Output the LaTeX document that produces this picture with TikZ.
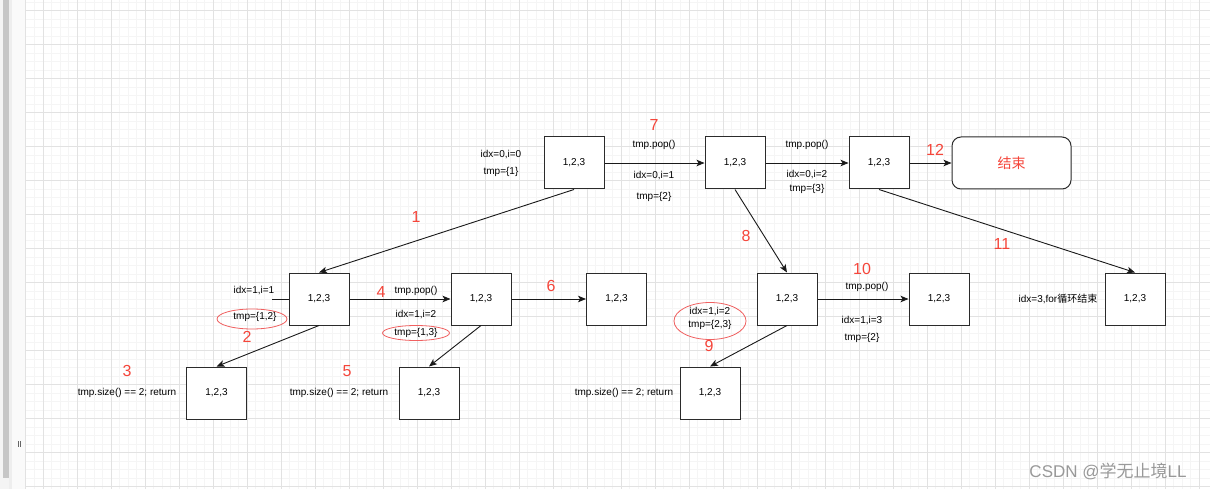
\documentclass[tikz,border=0pt]{standalone}
\usepackage{fontspec}
\setmainfont{Liberation Sans}
\newfontfamily\cjk{Noto Sans CJK SC}
\usetikzlibrary{arrows.meta}
\definecolor{numred}{HTML}{F5453A}
\definecolor{ellred}{HTML}{F06060}
\definecolor{gridmajor}{HTML}{E2E2E2}
\definecolor{gridminor}{HTML}{F5F5F5}
\definecolor{barcol}{HTML}{C6C6C6}
\definecolor{wmcol}{HTML}{999999}
\definecolor{sideA}{HTML}{F4F4F4}
\definecolor{sideB}{HTML}{FAFAFA}
\definecolor{sideC}{HTML}{EEEEEE}
\definecolor{boxline}{HTML}{2B2B2B}
\tikzset{
  box/.style={draw=boxline, line width=1pt, fill=white, minimum width=60pt, minimum height=52pt, inner sep=0pt, font=\fontsize{10}{12}\selectfont},
  endbox/.style={draw=boxline, line width=1pt, fill=white, rounded corners=9pt, minimum width=119pt, minimum height=52pt, inner sep=0pt, text=numred, font=\fontsize{14}{16}\cjk},
  lbl/.style={inner sep=0pt, font=\fontsize{10}{12}\selectfont, align=center},
  num/.style={inner sep=0pt, text=numred, font=\fontsize{16}{18}\selectfont},
  edge/.style={draw=black!90, line width=0.9pt, -{Stealth[length=8pt,width=6.5pt,inset=2pt]}},
  plain/.style={draw=black!90, line width=0.9pt},
  redell/.style={draw=ellred, line width=0.8pt}
}
\begin{document}
\begin{tikzpicture}[x=1pt,y=-1pt]
\useasboundingbox (0,0) rectangle (1210,489);
% background
\fill[white] (0,0) rectangle (1210,489);
% minor grid
\foreach \k in {0,...,138} {
  \pgfmathsetmacro\xx{43+8.5*(\k-2)}
  \ifdim\xx pt>26pt \draw[gridminor, line width=0.6pt] (\xx,0) -- (\xx,489); \fi
}
\foreach \k in {0,...,58} {
  \pgfmathsetmacro\yy{10.7+8.5*(\k-1)}
  \draw[gridminor, line width=0.6pt] (26,\yy) -- (1210,\yy);
}
% major grid
\foreach \k in {0,...,34} {
  \pgfmathsetmacro\xx{43+34*\k}
  \draw[gridmajor, line width=0.8pt] (\xx,0) -- (\xx,489);
}
\foreach \k in {0,...,14} {
  \pgfmathsetmacro\yy{10.7+34*\k}
  \draw[gridmajor, line width=0.8pt] (26,\yy) -- (1210,\yy);
}
% left sidebar
\fill[sideA] (0,0) rectangle (26,489);
\fill[sideB] (12,0) rectangle (25.5,489);
\fill[sideC] (9,0) rectangle (12,489);
\fill[barcol] (3,0) rectangle (9,478);
\draw[gridmajor, line width=0.8pt] (25.5,0) -- (25.5,489);
\draw[black!60, line width=0.8pt] (18.3,441) -- (18.3,447);
\draw[black!60, line width=0.8pt] (20.5,441) -- (20.5,447);

% boxes
\node[box] (A) at (574,163) {1,2,3};
\node[box] (B) at (735,163) {1,2,3};
\node[box] (C) at (879,163) {1,2,3};
\node[endbox] (End) at (1011.5,163) {结束};
\node[box] (D) at (319,299) {1,2,3};
\node[box] (E) at (481,299) {1,2,3};
\node[box] (F) at (616.5,299) {1,2,3};
\node[box] (G) at (787,299) {1,2,3};
\node[box] (H) at (939,299) {1,2,3};
\node[box] (I) at (1135,299) {1,2,3};
\node[box] (J) at (216.5,393) {1,2,3};
\node[box] (K) at (429,393) {1,2,3};
\node[box] (L) at (710,393) {1,2,3};

% connectors
\draw[edge] (A) -- (B);
\draw[edge] (B) -- (C);
\draw[edge] (C) -- (End);
\draw[edge] (A.south) -- (D.north);
\draw[edge] (B.south) -- (G.north);
\draw[edge] (C.south) -- (I.north);
\draw[edge] (D) -- (E);
\draw[edge] (E) -- (F);
\draw[edge] (G) -- (H);
\draw[edge] (D.south) -- (J.north);
\draw[edge] (E.south) -- (K.north);
\draw[edge] (G.south) -- (L.north);
\coordinate (d0) at (272,299);
\draw[plain] (d0) -- (D.west);

% top row labels
\node[lbl] (l1) at (501,155) {idx=0,i=0};
\node[lbl] (l2) at (501,172) {tmp=\{1\}};
\node[num] (n7) at (654,125) {7};
\node[lbl] (l3) at (654,145) {tmp.pop()};
\node[lbl] (l4) at (654,176) {idx=0,i=1};
\node[lbl] (l5) at (654,197) {tmp=\{2\}};
\node[lbl] (l6) at (807,145) {tmp.pop()};
\node[lbl] (l7) at (807,175) {idx=0,i=2};
\node[lbl] (l8) at (807,189) {tmp=\{3\}};
\node[num] (n12) at (935,150) {12};
\node[num] (n1) at (416,217) {1};
\node[num] (n8) at (746,236) {8};
\node[num] (n11) at (1002,244) {11};

% middle row labels
\node[lbl] (l9) at (254,291) {idx=1,i=1};
\draw[redell] (252,319) ellipse [x radius=35, y radius=10];
\node[lbl] (l10) at (255,317) {tmp=\{1,2\}};
\node[num] (n2) at (247,337) {2};
\node[num] (n4) at (381,292) {4};
\node[lbl] (l11) at (416,291) {tmp.pop()};
\node[lbl] (l12) at (416,315) {idx=1,i=2};
\draw[redell] (416,333) ellipse [x radius=33.5, y radius=7.5];
\node[lbl] (l13) at (416,333) {tmp=\{1,3\}};
\node[num] (n6) at (551,286) {6};
\node[num] (n10) at (862,269) {10};
\node[lbl] (l14) at (867,287) {tmp.pop()};
\node[lbl] (l15) at (862,321) {idx=1,i=3};
\node[lbl] (l16) at (862,338) {tmp=\{2\}};
\draw[redell] (710,321) ellipse [x radius=36, y radius=18.5];
\node[lbl] (l17) at (710,312) {idx=1,i=2};
\node[lbl] (l18) at (710,325) {tmp=\{2,3\}};
\node[num] (n9) at (709,346) {9};
\node[lbl] (l19) at (1058,299) {idx=3,for{\cjk 循环结束}};

% bottom row labels
\node[num] (n3) at (127,371) {3};
\node[lbl] (l20) at (127,393) {tmp.size() == 2; return};
\node[num] (n5) at (347,371) {5};
\node[lbl] (l21) at (339,393) {tmp.size() == 2; return};
\node[lbl] (l22) at (624,393) {tmp.size() == 2; return};

% watermark
\node[inner sep=0pt, text=wmcol, font=\fontsize{17}{19}\selectfont] (wm) at (1108,471) {CSDN @{\cjk 学无止境}LL};
\end{tikzpicture}
\end{document}
